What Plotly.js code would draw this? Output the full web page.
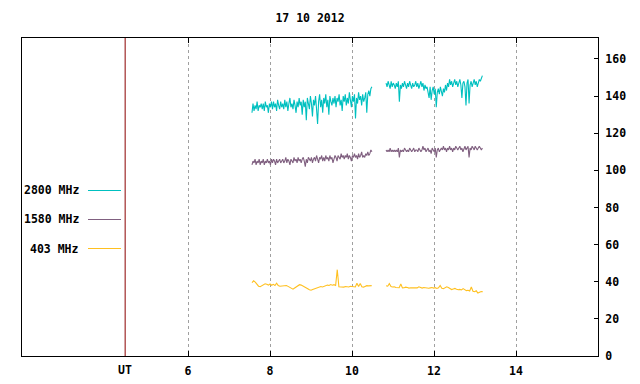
<!DOCTYPE html>
<html>
<head>
<meta charset="utf-8">
<script src="https://cdn.plot.ly/plotly-3.0.1.min.js"></script>
<style>html,body{margin:0;padding:0;background:#fff;}#chart{width:640px;height:384px;}</style>
</head>
<body>
<div id="chart"></div>
<script>
// ---- data (UT hours, solar flux units) ----
const chartTitle = '17 10 2012';
const seriesNames = ['2800 MHz', '1580 MHz', '403 MHz'];
const seriesColors = ['#00c0c0', '#806080', '#ffc020'];
const utMarker = 4.466;
const utLabel = 'UT';
const xTickVals = [6, 8, 10, 12, 14];
const xTickText = ['6', '8', '10', '12', '14'];
const yTickVals = [0, 20, 40, 60, 80, 100, 120, 140, 160];

// sampling grid of the two observing segments
const seg1Start = 7.56, seg2Start = 10.83;
const stepFast = 0.025;   // 2800 / 1580 MHz sampling (hours)
const stepSlow = 0.04;    // 403 MHz sampling (hours)

const flux2800a = [131,136,132,135,133,137,132,135,134,136,
  133,136,132,137,134,135,131,136,134,137,
  133,137,134,136,132,138,135,133,137,134,
  136,133,138,134,137,132,136,139,134,136,
  133,138,135,131,137,134,139,135,137,130,
  138,134,137,127,139,135,133,140,136,129,
  138,135,140,133,125,137,141,134,138,131,
  139,136,141,134,138,130,140,137,135,139,
  136,140,134,139,137,141,135,138,132,140,
  137,141,135,139,136,142,138,134,140,137,
  141,128,139,136,142,138,140,135,141,137,
  139,142,131,141,143,140,144,145];
const flux2800b = [147,145,148,146,144,148,145,147,146,144,
  147,145,148,137,146,144,147,145,148,146,
  144,147,145,148,146,144,147,145,146,148,
  145,147,144,146,148,145,147,143,146,144,
  145,142,139,145,138,143,145,141,144,134,
  142,144,141,145,143,140,144,142,146,143,
  147,145,149,146,148,145,147,149,146,148,
  145,147,149,146,139,147,148,145,135,147,
  149,136,146,148,145,147,149,146,148,145,
  147,149,148,150,151];
const flux1580a = [103,105,104,106,103,105,104,106,103,105,
  104,106,103,105,104,106,104,105,103,106,
  104,106,105,103,106,104,105,106,104,105,
  106,104,105,107,104,106,105,103,106,105,
  104,107,105,106,104,107,105,106,104,106,
  107,105,102,106,104,107,106,105,107,104,
  106,107,105,108,106,104,107,106,108,105,
  107,105,108,106,107,105,108,106,107,104,
  106,108,107,105,108,107,106,109,107,108,
  106,108,107,109,106,108,107,105,108,107,
  109,107,108,106,109,107,108,110,107,108,
  107,109,108,110,108,109,111,110];
const flux1580b = [111,110,111,110,112,110,111,110,111,110,
  111,110,112,107,111,110,111,110,112,111,
  110,111,110,112,111,110,111,112,110,111,
  111,110,112,111,110,111,113,111,112,110,
  111,112,110,111,109,112,111,110,112,107,
  111,112,110,111,112,111,113,111,112,110,
  112,111,113,111,112,110,112,111,113,112,
  111,112,113,111,112,110,112,113,111,112,
  113,107,112,111,113,112,111,113,112,111,
  112,113,112,111,112];
const flux403a = [39.5,40.5,39.8,38.8,37.6,37.3,37.8,38.4,38.9,38.6,
  38.2,38.8,38.1,38.6,38.0,39.2,37.9,37.6,37.7,38.2,
  38.3,38.0,37.5,37.1,36.5,36.0,36.6,37.3,37.9,38.4,
  38.2,37.8,37.2,36.8,36.2,35.7,35.4,35.8,36.2,36.5,
  36.9,37.3,37.4,37.2,37.6,37.9,38.2,38.0,38.5,38.1,
  38.4,38.0,46.5,37.3,37.2,37.5,37.1,37.4,37.3,37.2,
  37.6,37.4,37.3,37.2,39.2,37.4,39.0,37.3,37.1,37.6,
  37.9,37.8,38.0,37.9];
const flux403b = [37.8,37.6,39.0,37.4,37.2,37.3,36.9,37.0,36.8,38.8,
  36.7,36.8,37.1,36.9,36.6,36.8,36.7,37.0,36.9,36.7,
  37.3,36.8,36.6,36.9,36.7,36.8,36.5,36.7,36.9,36.6,
  36.8,36.4,36.7,38.0,36.5,36.3,36.6,37.3,36.9,36.2,
  35.8,36.1,36.4,36.0,35.7,35.9,35.6,36.3,35.5,35.2,
  35.4,35.0,37.2,34.9,34.6,35.1,33.9,34.4,34.7,34.6];

// ---- build ----
function timesFor(vals, start, step) { return vals.map((_, i) => start + i * step); }
function seg(a, b, step) {
  return {
    x: timesFor(a, seg1Start, step).concat([null], timesFor(b, seg2Start, step)),
    y: a.concat([null], b)
  };
}
const segs = [seg(flux2800a, flux2800b, stepFast), seg(flux1580a, flux1580b, stepFast),
              seg(flux403a, flux403b, stepSlow)];

const fontFam = '"DejaVu Sans Mono", "Liberation Mono", monospace';
const tickFont = {family: fontFam, size: 11.5, color: '#000', weight: 'bold'};

const traces = segs.map((s, k) => ({
  type: 'scatter', mode: 'lines', x: s.x, y: s.y, name: seriesNames[k],
  line: {color: seriesColors[k], width: 1.1}, connectgaps: false, showlegend: false,
  hoverinfo: 'skip'
}));

// plot frame in pixels: left 22, right 598, top 38, bottom 356
const W = 640, H = 384, L = 22, R = 598, T = 38, B = 356;
const px2paperX = p => (p - L) / (R - L);
const py2paperY = p => (B - p) / (B - T);

const legendY = [190.5, 219.5, 248.5];
const annotations = seriesNames.map((n, k) => ({
  text: n, xref: 'paper', yref: 'paper', x: px2paperX(81), y: py2paperY(legendY[k]),
  xanchor: 'right', yanchor: 'middle', showarrow: false, font: tickFont
}));
annotations.push({
  text: utLabel, xref: 'x', yref: 'paper', x: utMarker, y: 0, xanchor: 'center', yanchor: 'top',
  yshift: -5, showarrow: false, font: tickFont
});
const shapes = seriesNames.map((n, k) => ({
  type: 'line', xref: 'paper', yref: 'paper',
  x0: px2paperX(88), x1: px2paperX(121), y0: py2paperY(legendY[k]), y1: py2paperY(legendY[k]),
  line: {color: seriesColors[k], width: 1}
}));
shapes.push({type: 'line', xref: 'x', yref: 'paper', x0: utMarker, x1: utMarker, y0: 0, y1: 1,
  line: {color: '#8b0000', width: 1}, layer: 'above'});

const layout = {
  width: W, height: H,
  margin: {l: L, r: W - R, t: T, b: H - B, pad: 0},
  paper_bgcolor: '#fff', plot_bgcolor: '#fff',
  title: {text: chartTitle, font: tickFont, x: 0.5, xref: 'paper', xanchor: 'center',
          y: 1 - 18 / H, yref: 'container', yanchor: 'middle'},
  showlegend: false,
  xaxis: {
    range: [1.95, 16], tickmode: 'array', tickvals: xTickVals, ticktext: xTickText,
    ticks: 'inside', ticklen: 5, tickcolor: '#000', tickwidth: 1,
    showline: true, linecolor: '#000', linewidth: 1, mirror: 'ticks',
    showgrid: true, gridcolor: '#a0a0a0', gridwidth: 1, griddash: '3px,3px',
    zeroline: false, tickfont: tickFont, fixedrange: true, ticklabelstandoff: 4
  },
  yaxis: {
    side: 'right', range: [0, 171.3], tickmode: 'array', tickvals: yTickVals,
    ticks: 'inside', ticklen: 4, tickcolor: '#000', tickwidth: 1,
    showline: true, linecolor: '#000', linewidth: 1, mirror: true,
    showgrid: false, zeroline: false, tickfont: tickFont, fixedrange: true,
    ticklabelstandoff: 4
  },
  annotations: annotations,
  shapes: shapes
};

Plotly.newPlot('chart', traces, layout, {displayModeBar: false, staticPlot: true});
</script>
</body>
</html>
